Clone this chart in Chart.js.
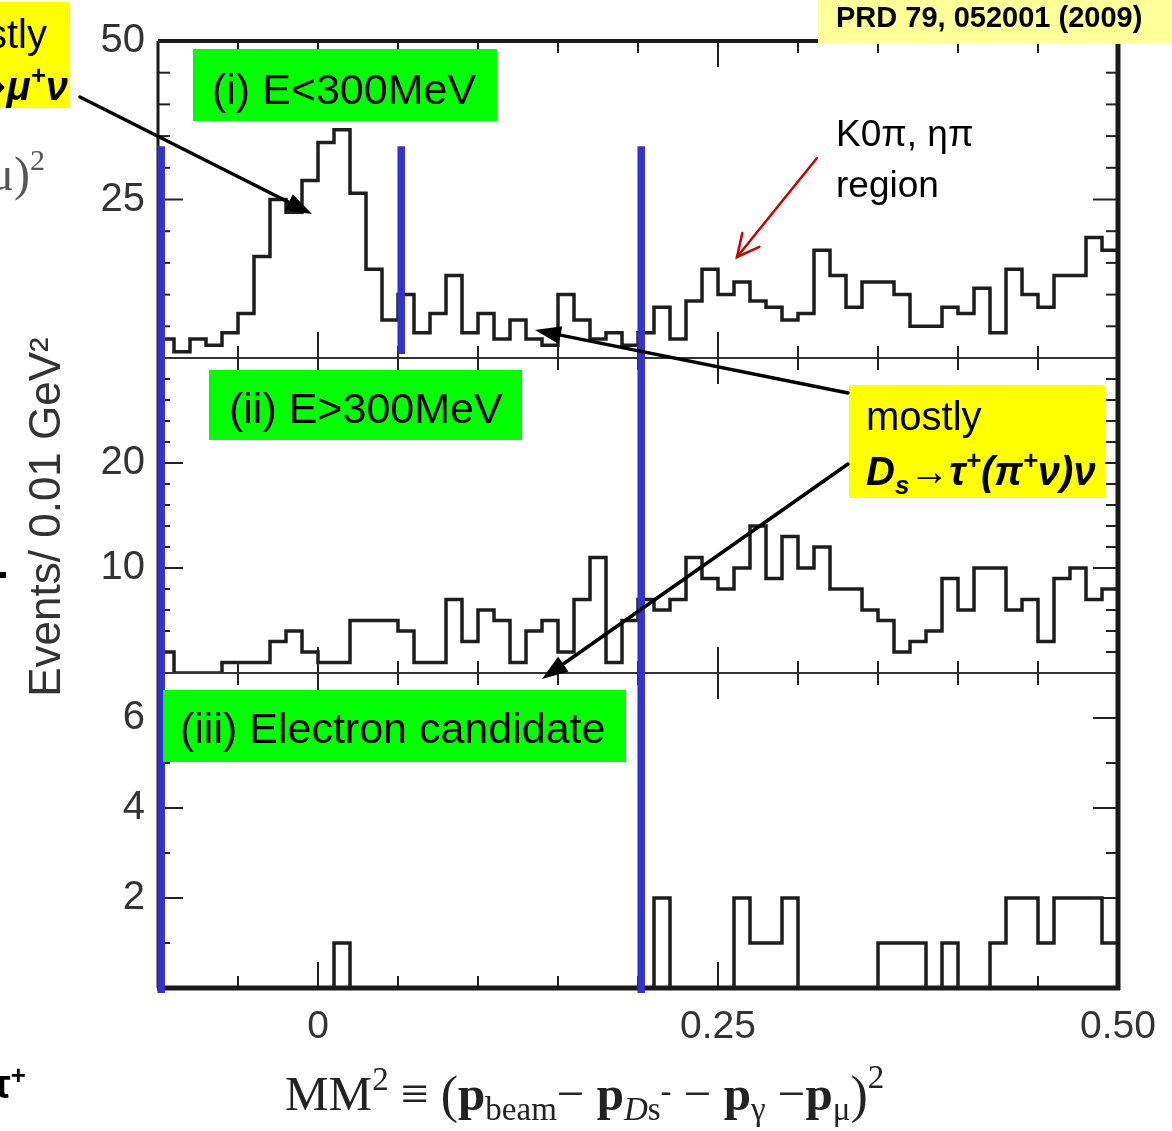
<!DOCTYPE html>
<html>
<head>
<meta charset="utf-8">
<title>MM2 distributions</title>
<script src="https://cdn.jsdelivr.net/npm/chart.js@4.4.1/dist/chart.umd.min.js"></script>
<style>
  html, body { margin: 0; padding: 0; background: #fff; }
  #wrap { width: 1172px; height: 1131px; }
</style>
</head>
<body>
<div id="wrap"><canvas id="mm2" width="1172" height="1131"></canvas></div>
<script>
// bins are 0.01 GeV^2 wide, from -0.10 to 0.50
var binStart = -0.10, binWidth = 0.01;

// (i) E < 300 MeV
var countsLowE = [3,1,3,2,4,7,16,25,23,28, 34,36,26,14,6,10,4,7,13,4,
                  7,3,6,3,2,10,6,3,4,2, 4,8,3,9,14,10,12,9,8,6,
                  7,17,13,8,12,12,10,5,5,8, 7,11,4,14,10,8,13,13,19,17];
// (ii) E > 300 MeV
var countsHighE = [2,0,0,0,1,1,1,3,4,2, 1,1,5,5,5,4,1,1,7,3,
                   6,5,1,4,5,2,7,11,1,5, 7,6,7,11,9,8,10,14,9,13,
                   10,12,8,8,6,5,2,3,4,9, 6,10,10,6,7,3,9,10,7,8];
// (iii) electron candidate
var countsElectron = [0,0,0,0,0,0,0,0,0,0, 0,1,0,0,0,0,0,0,0,0,
                      0,0,0,0,0,0,0,0,0,0, 0,2,0,0,0,0,2,1,1,2,
                      0,0,0,0,0,1,1,1,0,1, 0,0,1,2,2,1,2,2,2,1];

// axes
var xMin = -0.10, xMax = 0.50, xTickStep = 0.05;
var xMajorTicks = [0, 0.25];
var xLabelValues = [0, 0.25, 0.50];
var xLabelTexts = ['0', '0.25', '0.50'];

var panelIds = ['yLow', 'yHigh', 'yElec'];
var panelMax = [50, 30, 7];
var panelMinorStep = [5, 2, 1];
var panelMajorStep = [25, 10, 2];
var panelLabels = [[25, 50], [10, 20], [2, 4, 6]];

// signal-region cut lines (GeV^2)
var cutValues = [-0.098, 0.052, 0.202];

var SANS = '"Liberation Sans", Arial, Helvetica, sans-serif';
var SERIF = '"Liberation Serif", "Times New Roman", Times, serif';

function stepPoints(counts) {
  var pts = counts.map(function(c, k) { return {x: binStart + k * binWidth, y: c}; });
  pts.push({x: binStart + counts.length * binWidth, y: counts[counts.length - 1]});
  return pts;
}

function near(v, list) {
  for (var i = 0; i < list.length; i++) if (Math.abs(v - list[i]) < 1e-6) return i;
  return -1;
}

function richWidth(ctx, parts) {
  var w = 0;
  parts.forEach(function(p) { ctx.font = p[1]; w += ctx.measureText(p[0]).width; });
  return w;
}
function drawRich(ctx, parts, x, y, align, color) {
  var w = richWidth(ctx, parts);
  var cx = align === 'right' ? x - w : (align === 'center' ? x - w / 2 : x);
  ctx.fillStyle = color || '#000';
  ctx.textAlign = 'left';
  ctx.textBaseline = 'alphabetic';
  parts.forEach(function(p) {
    ctx.font = p[1];
    ctx.fillText(p[0], cx, y + (p[2] || 0));
    cx += ctx.measureText(p[0]).width;
  });
}

function seg(ctx, x1, y1, x2, y2) {
  ctx.beginPath(); ctx.moveTo(x1, y1); ctx.lineTo(x2, y2); ctx.stroke();
}

function arrow(ctx, x1, y1, x2, y2, color, lw, open) {
  var a = Math.atan2(y2 - y1, x2 - x1);
  var hl = open ? 22 : 26, hw = open ? 11 : 9;
  ctx.save();
  ctx.strokeStyle = color; ctx.fillStyle = color; ctx.lineWidth = lw;
  ctx.lineCap = 'round';
  var bx = x2 - hl * Math.cos(a), by = y2 - hl * Math.sin(a);
  var lx = bx + hw * Math.sin(a), ly = by - hw * Math.cos(a);
  var rx = bx - hw * Math.sin(a), ry = by + hw * Math.cos(a);
  if (open) {
    seg(ctx, x1, y1, x2, y2);
    ctx.beginPath(); ctx.moveTo(lx, ly); ctx.lineTo(x2, y2); ctx.lineTo(rx, ry); ctx.stroke();
  } else {
    seg(ctx, x1, y1, bx, by);
    ctx.beginPath(); ctx.moveTo(x2, y2); ctx.lineTo(lx, ly); ctx.lineTo(rx, ry); ctx.closePath(); ctx.fill();
  }
  ctx.restore();
}

var framePlugin = {
  id: 'frame',
  afterDraw: function(chart) {
    var ctx = chart.ctx, ca = chart.chartArea, xs = chart.scales.x;
    ctx.save();

    // inward tick marks on every panel
    ctx.strokeStyle = '#222';
    ctx.lineWidth = 2;
    panelIds.forEach(function(id, p) {
      var ys = chart.scales[id];
      for (var k = 1; ; k++) {
        var v = Math.round((xMin + k * xTickStep) * 1000) / 1000;
        if (v > xMax - 1e-9) break;
        var px = xs.getPixelForValue(v);
        var len = near(v, xMajorTicks) >= 0 ? 26 : 12;
        seg(ctx, px, ys.bottom, px, ys.bottom - len);
        seg(ctx, px, ys.top, px, ys.top + len);
      }
      for (var y = panelMinorStep[p]; y < panelMax[p] - 1e-9; y += panelMinorStep[p]) {
        var py = ys.getPixelForValue(y);
        var l2 = (y % panelMajorStep[p] === 0) ? 25 : 12;
        seg(ctx, ca.left, py, ca.left + l2, py);
        seg(ctx, ca.right, py, ca.right - l2, py);
      }
    });

    // panel separators and outer frame
    ctx.strokeStyle = '#333';
    ctx.lineWidth = 2;
    seg(ctx, ca.left, chart.scales.yLow.bottom, ca.right, chart.scales.yLow.bottom);
    seg(ctx, ca.left, chart.scales.yHigh.bottom, ca.right, chart.scales.yHigh.bottom);
    ctx.strokeStyle = '#1a1a1a';
    ctx.lineWidth = 4;
    seg(ctx, ca.left, ca.top, ca.right, ca.top);
    ctx.lineWidth = 3;
    seg(ctx, ca.left, ca.top, ca.left, ca.bottom);
    ctx.lineWidth = 5;
    seg(ctx, ca.right, ca.top - 2, ca.right, ca.bottom + 2);
    seg(ctx, ca.left - 1, ca.bottom, ca.right + 2, ca.bottom);

    // y axis title
    ctx.save();
    ctx.translate(60, 517);
    ctx.rotate(-Math.PI / 2);
    ctx.fillStyle = '#333';
    ctx.font = '44px ' + SANS;
    ctx.textAlign = 'center';
    ctx.textBaseline = 'alphabetic';
    ctx.fillText('Events/ 0.01 GeV\u00b2', 0, 0);
    ctx.restore();

    // x axis title
    var R = '49px ' + SERIF, Rs = '33px ' + SERIF, B = 'bold 49px ' + SERIF;
    var Is = 'italic 33px ' + SERIF, P = '52px ' + SERIF;
    drawRich(ctx, [['MM', R], ['2', Rs, -20], [' \u2261 ', R], ['(', P, 2], ['p', B], ['beam', Rs, 10],
      ['\u2212 ', R], ['p', B], ['D', Is, 10], ['s', Rs, 10], ['-', Rs, -8], [' \u2212 ', R], ['p', B],
      ['\u03b3', Rs, 10], [' \u2212', R], ['p', B], ['\u03bc', Rs, 10], [')', P, 2], ['2', Rs, -22]],
      285, 1110, 'left', '#222');

    // fragments cut at the left edge of the slide
    drawRich(ctx, [['\u03bc', '48px ' + SERIF], [')', '48px ' + SERIF], ['2', '30px ' + SERIF, -20]], 45, 190, 'right', '#555');
    ctx.fillStyle = '#000';
    ctx.fillRect(0, 572, 6, 6);
    drawRich(ctx, [['\u03c4', 'bold 40px ' + SANS], ['+', 'bold 26px ' + SANS, -14]], 26, 1098, 'right', '#000');

    // cut lines
    ctx.strokeStyle = '#3333cc';
    ctx.lineWidth = 7.5;
    var cutTop = chart.scales.yLow.getPixelForValue(33.4);
    cutValues.forEach(function(v, i) {
      var px = xs.getPixelForValue(v);
      var bottom = i === 1 ? chart.scales.yLow.bottom - 4 : ca.bottom + 5;
      seg(ctx, px, cutTop, px, bottom);
    });

    // labels
    ctx.fillStyle = '#ffff99';
    ctx.fillRect(818, 0, 354, 44);
    drawRich(ctx, [['PRD 79, 052001 (2009)', 'bold 29px ' + SANS]], 836, 27, 'left', '#000');

    ctx.fillStyle = '#ffff00';
    ctx.fillRect(0, 2, 70, 106);
    drawRich(ctx, [['mostly', '40px ' + SANS]], 47, 48, 'right', '#000');
    var BI = 'italic bold 40px ' + SANS, BIs = 'italic bold 26px ' + SANS;
    drawRich(ctx, [['D', BI], ['s', BIs, 9], ['\u27f6', '40px ' + SANS], ['\u03bc', BI], ['+', BIs, -16], ['\u03bd', BI]],
      68, 100, 'right', '#000');

    ctx.fillStyle = '#00ff00';
    ctx.fillRect(193, 49, 304, 72);
    ctx.fillRect(209, 370, 313, 70);
    ctx.fillRect(163, 690, 463, 72);
    var G = '43px ' + SANS;
    drawRich(ctx, [['(i) E<300MeV', G]], 212, 104, 'left', '#000');
    drawRich(ctx, [['(ii) E>300MeV', G]], 229, 423, 'left', '#000');
    drawRich(ctx, [['(iii) Electron candidate', G]], 180, 743, 'left', '#000');

    ctx.fillStyle = '#ffff00';
    ctx.fillRect(849, 385, 256, 113);
    drawRich(ctx, [['mostly', '40px ' + SANS]], 866, 430, 'left', '#000');
    drawRich(ctx, [['D', BI], ['s', BIs, 9], ['\u2192', '40px ' + SANS], ['\u03c4', BI], ['+', BIs, -16],
      ['(\u03c0', BI], ['+', BIs, -16], ['\u03bd)\u03bd', BI]], 866, 485, 'left', '#000');

    drawRich(ctx, [['K0\u03c0, \u03b7\u03c0', '37px ' + SANS]], 836, 146, 'left', '#000');
    drawRich(ctx, [['region', '37px ' + SANS]], 836, 197, 'left', '#000');

    // arrows
    arrow(ctx, 80, 97, 312, 214, '#000', 3.5, false);
    arrow(ctx, 848, 393, 535, 330, '#000', 3.5, false);
    arrow(ctx, 848, 464, 542, 679, '#000', 3.5, false);
    arrow(ctx, 817, 158, 737, 257, '#cc0000', 2.5, true);

    ctx.restore();
  }
};

function yScale(p) {
  return {
    type: 'linear', position: 'left', stack: 'mm2', stackWeight: [317, 315, 315][p],
    min: 0, max: panelMax[p],
    grid: {display: false, drawTicks: false}, border: {display: false},
    ticks: {
      stepSize: panelMinorStep[p], autoSkip: false, padding: 13, color: '#333',
      font: {size: 40, family: SANS},
      callback: function(v) { return near(v, panelLabels[p]) >= 0 ? String(v) : ''; }
    },
    afterFit: function(s) { s.width = 158; }
  };
}

var lineStyle = {borderColor: '#1e1e1e', borderWidth: 3.5, stepped: 'before', fill: false, pointRadius: 0};

// stacked y scales are laid out bottom-up in definition order
new Chart(document.getElementById('mm2'), {
  type: 'line',
  data: {
    datasets: [
      Object.assign({label: '(i) E<300MeV', data: stepPoints(countsLowE), yAxisID: 'yLow'}, lineStyle),
      Object.assign({label: '(ii) E>300MeV', data: stepPoints(countsHighE), yAxisID: 'yHigh'}, lineStyle),
      Object.assign({label: '(iii) Electron candidate', data: stepPoints(countsElectron), yAxisID: 'yElec'}, lineStyle)
    ]
  },
  options: {
    responsive: false,
    animation: false,
    devicePixelRatio: 1,
    layout: {padding: {top: 41, right: 54, left: 0, bottom: 0}},
    plugins: {legend: {display: false}, tooltip: {enabled: false}},
    scales: {
      x: {
        type: 'linear', min: xMin, max: xMax,
        grid: {display: false, drawTicks: false}, border: {display: false},
        ticks: {
          stepSize: xTickStep, maxTicksLimit: 30, autoSkip: false, maxRotation: 0,
          padding: 16, color: '#333', font: {size: 39, family: SANS},
          callback: function(v) { var i = near(v, xLabelValues); return i >= 0 ? xLabelTexts[i] : ''; }
        },
        afterFit: function(s) { s.height = 143; }
      },
      yElec: yScale(2),
      yHigh: yScale(1),
      yLow: yScale(0)
    }
  },
  plugins: [framePlugin]
});
</script>
</body>
</html>
